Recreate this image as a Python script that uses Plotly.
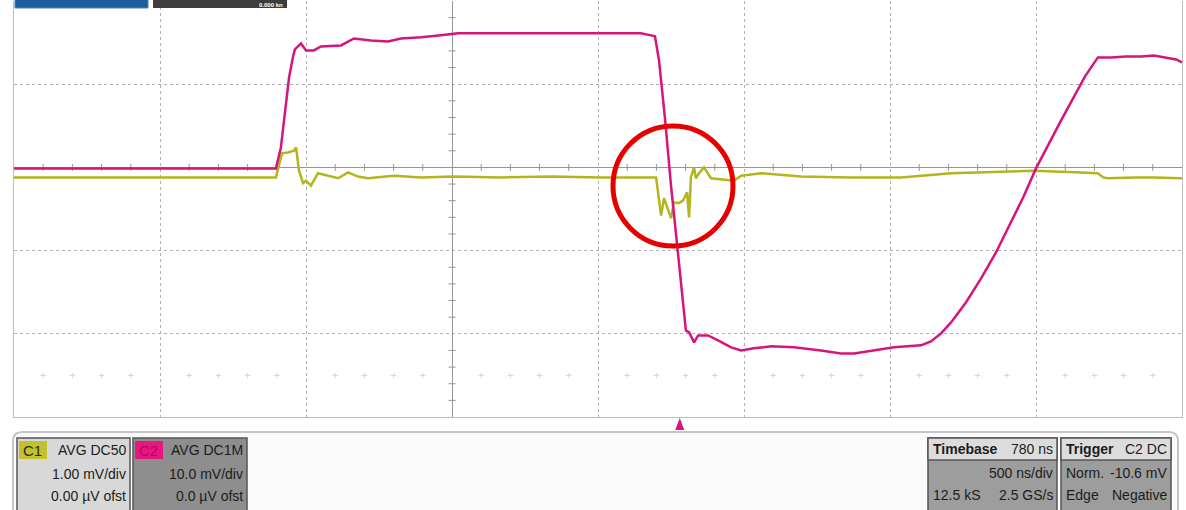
import plotly.graph_objects as go

# ---- figure geometry -------------------------------------------------------
W, H = 1186, 510
ML, MR, MT, MB = 14, 4, 1, 93
PW = W - ML - MR
PH = H - MT - MB

# ---- scope settings --------------------------------------------------------
T_RANGE = [-1500, 2500]      # ns, 500 ns/div
C1_RANGE = [-3, 2]           # mV, 1.00 mV/div
C2_RANGE = [-30, 20]         # mV, 10.0 mV/div
TRIGGER_T = 780              # ns
TRIGGER_LEVEL = -10.6        # mV

# ---- captured waveforms ----------------------------------------------------
c2_t = [-1500, -603, -586, -569, -558, -545, -538, -517, -500, -473, -449,
        -380, -336, -277, -219, -175, -106, -38, 21, 168, 339, 510, 647, 682,
        695, 709, 730, 750, 777, 801, 812, 829, 843, 877, 911, 956, 990, 1034,
        1093, 1171, 1264, 1332, 1377, 1445, 1514, 1606, 1640, 1675, 1709,
        1760, 1812, 1863, 1914, 1956, 2000, 2045, 2086, 2127, 2168, 2212,
        2257, 2308, 2360, 2404, 2445, 2480, 2500]
c2_mv = [-0.12, -0.12, 2.40, 7.69, 10.82, 13.22, 14.18, 14.90, 14.06, 14.06,
         14.54, 14.66, 15.50, 15.26, 15.14, 15.50, 15.63, 15.87, 16.11, 16.11,
         16.11, 16.11, 16.11, 15.87, 15.75, 12.86, 5.65, -2.16, -11.42, -19.59,
         -19.83, -21.03, -20.19, -20.19, -20.79, -21.63, -22.00, -21.75,
         -21.51, -21.63, -22.00, -22.36, -22.36, -22.00, -21.63, -21.39,
         -20.91, -19.95, -18.63, -16.23, -13.34, -10.22, -6.61, -3.61, -0.12,
         3.00, 5.65, 8.29, 10.94, 13.22, 13.22, 13.34, 13.34, 13.46, 13.22,
         12.98, 12.62]

c1_t = [-1500, -603, -582, -562, -541, -534, -524, -510, -500, -483, -459,
        -425, -390, -356, -322, -288, -199, -106, 7, 168, 339, 510, 647, 699,
        716, 726, 750, 760, 777, 791, 805, 812, 818, 829, 835, 846, 863, 877,
        887, 966, 990, 1058, 1195, 1366, 1538, 1709, 1812, 1993, 2154, 2212,
        2230, 2247, 2336, 2404, 2500]
c1_mv = [-0.12, -0.12, 0.17, 0.18, 0.20, 0.24, -0.04, -0.19, -0.16, -0.22,
         -0.07, -0.10, -0.13, -0.06, -0.11, -0.13, -0.10, -0.12, -0.11, -0.12,
         -0.11, -0.12, -0.12, -0.12, -0.58, -0.37, -0.61, -0.42, -0.43, -0.40,
         -0.30, -0.60, -0.12, 0.00, -0.13, -0.07, 0.00, -0.07, -0.13, -0.16,
         -0.10, -0.07, -0.11, -0.12, -0.12, -0.07, -0.06, -0.04, -0.06, -0.07,
         -0.12, -0.13, -0.12, -0.12, -0.13]

C1_COLOR = "#b4b41e"
C2_COLOR = "#d6147c"
GRID = "#b0b0b0"
AXIS = "#959595"
FONT = "Liberation Sans, Arial, sans-serif"


def xp(px):
    """pixel column -> paper x"""
    return (px - ML) / PW


def yp(py):
    """pixel row -> paper y"""
    return (H - MB - py) / PH


fig = go.Figure()

# faint marker row half a division above the bottom edge
row_t = [t for t in range(T_RANGE[0], T_RANGE[1] + 1, 100) if t % 500]
fig.add_trace(go.Scatter(
    x=row_t, y=[C1_RANGE[0] + 0.5] * len(row_t), mode="markers",
    marker=dict(symbol="cross-thin", size=4,
                line=dict(color="#d6d6d6", width=1)),
    hoverinfo="skip", showlegend=False, yaxis="y"))

fig.add_trace(go.Scatter(
    x=c1_t, y=c1_mv, mode="lines", name="C1",
    line=dict(color=C1_COLOR, width=2.5), yaxis="y", showlegend=False))
fig.add_trace(go.Scatter(
    x=c2_t, y=c2_mv, mode="lines", name="C2",
    line=dict(color=C2_COLOR, width=2.5), yaxis="y2", showlegend=False))

shapes = []

# minor ticks on the centre cross
tick_h = (C1_RANGE[1] - C1_RANGE[0]) / PH * 3.5
for t in range(T_RANGE[0], T_RANGE[1] + 1, 100):
    if t % 500:
        shapes.append(dict(type="line", xref="x", yref="y", x0=t, x1=t,
                           y0=-tick_h, y1=tick_h, layer="below",
                           line=dict(color=AXIS, width=1)))
tick_w = (T_RANGE[1] - T_RANGE[0]) / PW * 3.5
for k in range(-15, 11):
    if k % 5:
        v = k * 0.2
        shapes.append(dict(type="line", xref="x", yref="y", x0=-tick_w,
                           x1=tick_w, y0=v, y1=v, layer="below",
                           line=dict(color=AXIS, width=1)))

# trigger position marker
tw = (T_RANGE[1] - T_RANGE[0]) / PW * 4.5
shapes.append(dict(type="path", xref="x", yref="paper",
                   path=f"M {TRIGGER_T - tw},{yp(430)} L {TRIGGER_T + tw},{yp(430)} "
                        f"L {TRIGGER_T},{yp(418)} Z",
                   fillcolor=C2_COLOR, line=dict(width=0)))

# highlight ring around the C1 disturbance
shapes.append(dict(type="circle", xref="paper", yref="paper",
                   x0=xp(613), x1=xp(733), y0=yp(126), y1=yp(246),
                   line=dict(color="#e60000", width=5)))

# bottom status frame
r = 9
shapes.append(dict(type="path", xref="paper", yref="paper",
                   path=(f"M {xp(13)},{yp(512)} L {xp(13)},{yp(432 + r)} "
                         f"Q {xp(13)},{yp(432)} {xp(13 + r)},{yp(432)} "
                         f"L {xp(1178 - r)},{yp(432)} "
                         f"Q {xp(1178)},{yp(432)} {xp(1178)},{yp(432 + r)} "
                         f"L {xp(1178)},{yp(512)}"),
                   fillcolor="#fbfbfb", line=dict(color="#c4c4c4", width=2)))


def box(x0, x1, y0, y1, fill, line="#555555", w=1.5):
    shapes.append(dict(type="rect", xref="paper", yref="paper",
                       x0=xp(x0), x1=xp(x1), y0=yp(y1), y1=yp(y0),
                       fillcolor=fill, line=dict(color=line, width=w)))


# channel panels
box(17, 130, 438, 514, "#d8d8d8")
box(19, 47, 441, 459, "#c2c22c", line="#c2c22c", w=0)
box(133, 247, 438, 514, "#8e8e8e")
box(135, 163, 441, 459, "#e8177f", line="#e8177f", w=0)

# timebase / trigger panels
box(928, 1057, 438, 514, "#9d9d9d")
box(928, 1057, 438, 460, "#dcdcdc")
box(1061, 1171, 438, 514, "#9d9d9d")
box(1061, 1171, 438, 460, "#dcdcdc")

# top header tabs
box(15, 148, -10, 8, "#1e5c9e", line="#4a82bf", w=1)
box(153, 287, -10, 8, "#3d3d3d", line="#3d3d3d", w=0)

annotations = []


def label(x, y, text, anchor="right", size=14, bold=False, color="#1c1c1c"):
    annotations.append(dict(
        xref="paper", yref="paper", x=xp(x), y=yp(y),
        text=f"<b>{text}</b>" if bold else text,
        showarrow=False, xanchor=anchor, yanchor="middle",
        font=dict(family=FONT, size=size, color=color)))


label(21, 450, "C1", anchor="left", size=15, color="#2a2a2a")
label(128, 450, "AVG DC50")
label(128, 474, "1.00 mV/div")
label(128, 496, "0.00 µV ofst")

label(137, 450, "C2", anchor="left", size=15, color="#b00a62")
label(245, 450, "AVG DC1M")
label(245, 474, "10.0 mV/div")
label(245, 496, "0.0 µV ofst")

label(931, 449, "Timebase", anchor="left", bold=True)
label(1055, 449, "780 ns")
label(1055, 473, "500 ns/div")
label(931, 495, "12.5 kS", anchor="left")
label(1055, 495, "2.5 GS/s")

label(1064, 449, "Trigger", anchor="left", bold=True)
label(1169, 449, "C2 DC")
label(1064, 473, "Norm.", anchor="left")
label(1169, 473, f"{TRIGGER_LEVEL} mV")
label(1064, 495, "Edge", anchor="left")
label(1169, 495, "Negative")

# header readout, small enough to sit inside the tab
annotations.append(dict(
    xref="paper", yref="paper", x=xp(284), y=yp(5), text="<b>0.000 kn</b>",
    showarrow=False, xanchor="right", yanchor="middle", borderpad=0,
    font=dict(family=FONT, size=6, color="#ffffff")))

fig.update_layout(
    width=W, height=H,
    margin=dict(l=ML, r=MR, t=MT, b=MB, pad=0),
    paper_bgcolor="#ffffff", plot_bgcolor="#ffffff",
    showlegend=False,
    xaxis=dict(range=T_RANGE, dtick=500, tick0=T_RANGE[0], showgrid=True,
               gridcolor=GRID, griddash="dot", gridwidth=1,
               zeroline=True, zerolinecolor=AXIS, zerolinewidth=1,
               showline=True, linecolor="#bdbdbd", linewidth=1,
               showticklabels=False, ticks="", fixedrange=True),
    yaxis=dict(range=C1_RANGE, dtick=1, tick0=0, showgrid=True,
               gridcolor=GRID, griddash="dot", gridwidth=1,
               zeroline=True, zerolinecolor=AXIS, zerolinewidth=1,
               showline=True, mirror=True, linecolor="#bdbdbd", linewidth=1,
               showticklabels=False, ticks="", fixedrange=True),
    yaxis2=dict(range=C2_RANGE, overlaying="y", showgrid=False,
                zeroline=False, showticklabels=False, ticks="",
                showline=False, fixedrange=True),
    shapes=shapes,
    annotations=annotations,
)

fig.write_html("out.html")
